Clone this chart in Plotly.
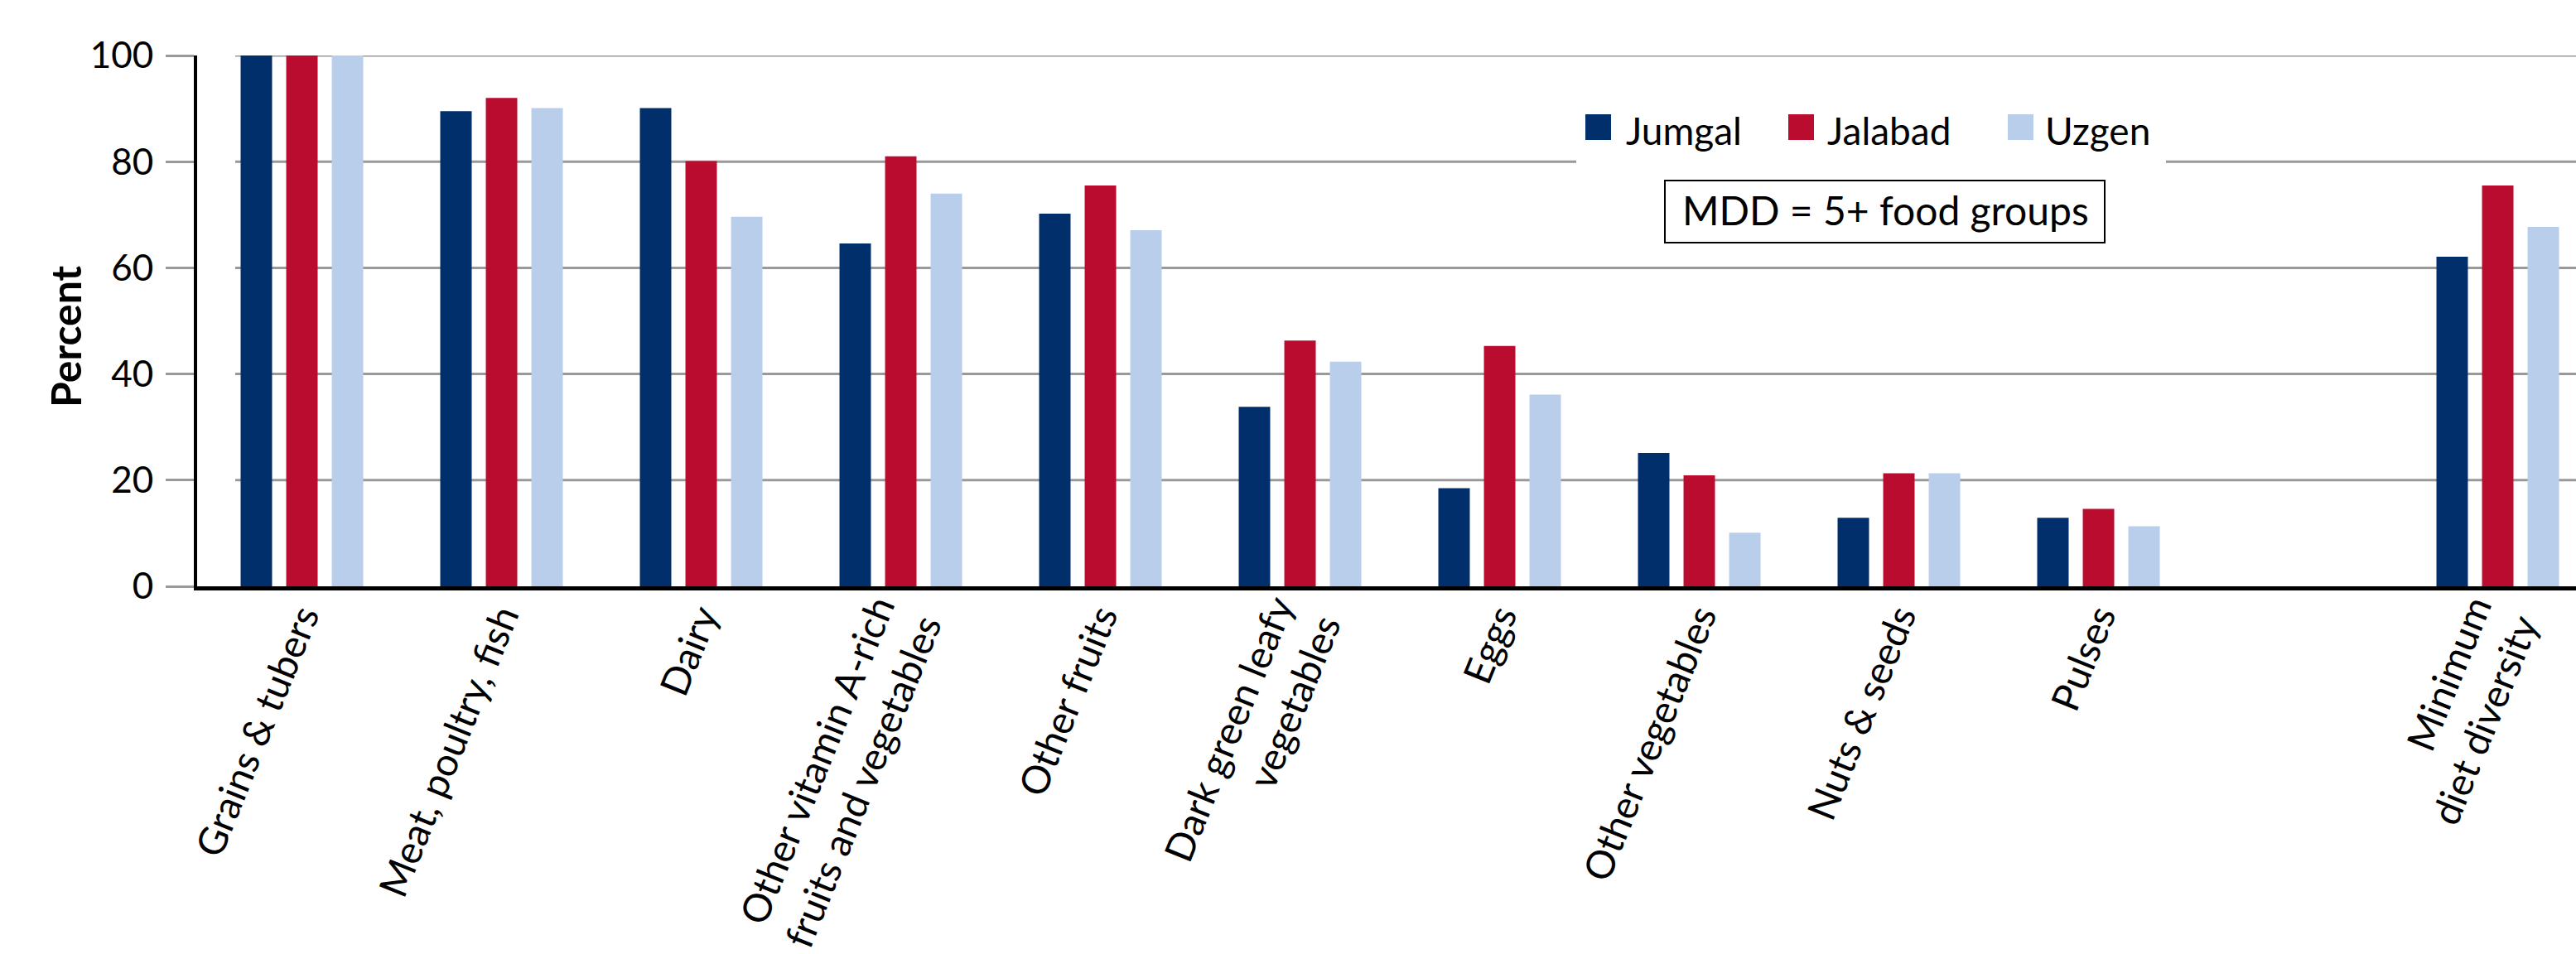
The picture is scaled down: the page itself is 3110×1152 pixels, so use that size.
import plotly.graph_objects as go

# Food groups consumed, by district (percent of women)
categories = [
    "Grains & tubers",
    "Meat, poultry, fish",
    "Dairy",
    "Other vitamin A-rich<br>fruits and vegetables",
    "Other fruits",
    "Dark green leafy<br>vegetables",
    "Eggs",
    "Other vegetables",
    "Nuts & seeds",
    "Pulses",
    "Minimum<br>diet diversity",
]
spacer = " "  # empty slot separating the food groups from the MDD indicator

series_names = ["Jumgal", "Jalabad", "Uzgen"]
jumgal = [100, 89.5, 90.1, 64.6, 70.2, 33.8, 18.5, 25.1, 12.9, 12.9, 62.1]
jalabad = [100, 92.0, 80.1, 81.0, 75.5, 46.3, 45.3, 20.9, 21.3, 14.6, 75.5]
uzgen = [100, 90.1, 69.6, 74.0, 67.1, 42.3, 36.1, 10.1, 21.3, 11.3, 67.7]

y_ticks = [0, 20, 40, 60, 80, 100]
note_text = "MDD = 5+ food groups"
y_title = "Percent"

colors = ["#002F6C", "#BA0C2F", "#B9CEEB"]

W, H = 3110, 1152
ML, MR, MT, MB = 238, 0, 67, 444
PW, PH = W - ML - MR, H - MT - MB


def px_x(px):
    return (px - ML) / PW


def px_y(py):
    return (H - MB - py) / PH


fig = go.Figure()
for name, vals, col in zip(series_names, [jumgal, jalabad, uzgen], colors):
    fig.add_trace(go.Bar(name=name, x=categories, y=vals, marker=dict(color=col, line=dict(width=0)),
                         showlegend=False))

shapes = []
# horizontal gridlines (start a little right of the y-axis)
for v in y_ticks[1:]:
    shapes.append(dict(type="line", xref="paper", yref="y", x0=px_x(284), x1=1, y0=v, y1=v,
                       line=dict(color="#999999", width=3), layer="below"))
# white panel behind the legend
shapes.append(dict(type="rect", xref="paper", yref="paper", x0=px_x(1903), x1=px_x(2615),
                   y0=px_y(208), y1=px_y(118), fillcolor="white", line=dict(width=0), layer="below"))
# legend swatches
sw_x = [1914, 2159, 2424]
for x0, col in zip(sw_x, colors):
    shapes.append(dict(type="rect", xref="paper", yref="paper", x0=px_x(x0), x1=px_x(x0 + 31),
                       y0=px_y(169), y1=px_y(138), fillcolor=col, line=dict(width=0), layer="above"))
# box around the MDD note
shapes.append(dict(type="rect", xref="paper", yref="paper", x0=px_x(2010), x1=px_x(2541),
                   y0=px_y(293), y1=px_y(218), fillcolor="white", line=dict(color="black", width=2),
                   layer="above"))

annotations = []
txt_x = [1961, 2204, 2467]
for x0, name in zip(txt_x, series_names):
    annotations.append(dict(text=name, xref="paper", yref="paper", x=px_x(x0), y=px_y(157),
                            xanchor="left", yanchor="middle", showarrow=False,
                            font=dict(family="Lato", size=46, color="black")))
annotations.append(dict(text=note_text, xref="paper", yref="paper", x=px_x(2276), y=px_y(253),
                        xanchor="center", yanchor="middle", showarrow=False,
                        font=dict(family="Lato", size=48, color="black")))
annotations.append(dict(text="<b>" + y_title + "</b>", xref="paper", yref="paper", x=px_x(79), y=px_y(406),
                        xanchor="center", yanchor="middle", textangle=-90, showarrow=False,
                        font=dict(family="Lato", size=50, color="black")))

fig.update_layout(
    template="none",
    width=W, height=H,
    margin=dict(l=ML, r=MR, t=MT, b=MB, pad=0),
    paper_bgcolor="white", plot_bgcolor="white",
    barmode="group", bargap=0.315, bargroupgap=0.31,
    shapes=shapes, annotations=annotations,
    showlegend=False,
    font=dict(family="Lato", color="black"),
)
fig.update_xaxes(
    type="category",
    categoryorder="array",
    categoryarray=categories[:10] + [spacer] + categories[10:],
    range=[-0.525, 11.392], autorange=False,
    showgrid=False, zeroline=False,
    showline=True, linecolor="black", linewidth=5,
    ticks="", tickangle=-68,
    tickfont=dict(family="Lato", size=47, color="black"),
    ticklabelstandoff=-14,
    automargin=False,
)
fig.update_yaxes(
    range=[0, 100], autorange=False,
    tickvals=y_ticks,
    showgrid=False, zeroline=False,
    showline=True, linecolor="black", linewidth=4,
    ticks="outside", ticklen=34, tickwidth=3, tickcolor="#999999",
    tickfont=dict(family="Lato", size=44, color="black"),
    ticklabelstandoff=6,
    automargin=False,
)

fig.write_html("out.html", config={"displayModeBar": False})
